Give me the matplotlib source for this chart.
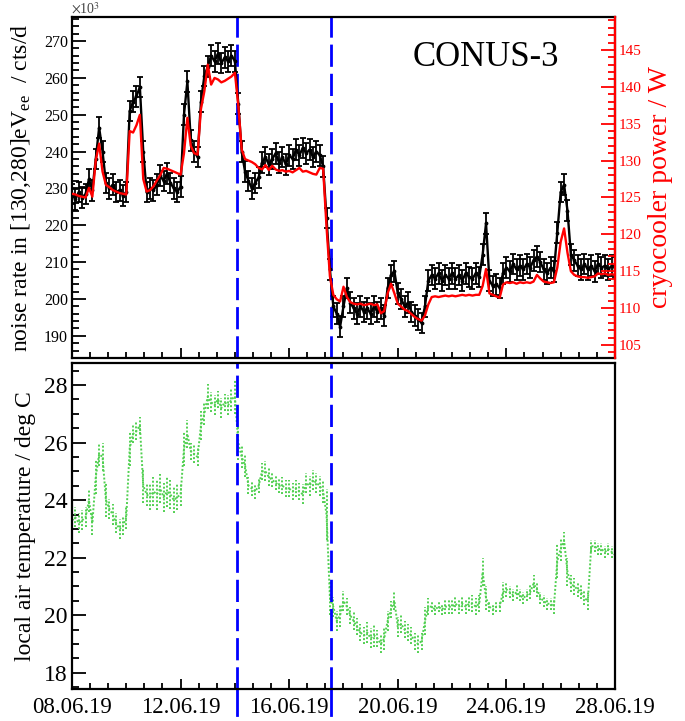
"""CONUS-3: noise rate vs cryocooler power and local air temperature."""
import matplotlib

matplotlib.use("Agg")
import matplotlib.pyplot as plt
import matplotlib.transforms as mtransforms
import numpy as np
import pandas as pd
from matplotlib.ticker import FuncFormatter, MultipleLocator

plt.rcParams["font.family"] = "serif"
plt.rcParams["font.serif"] = ["Liberation Serif", "DejaVu Serif"]
plt.rcParams["mathtext.fontset"] = "stix"

START = pd.Timestamp("2019-06-08")
time = pd.date_range("2019-06-08 00:00", "2019-06-28 00:00", freq="3h")

# noise rate in [130,280] eV_ee, x10^3 cts/d (3 h bins)
noise_rate = [
    228.5, 227.0, 229.0, 227.5, 228.5, 232.5, 229.5, 238.0,
    246.5, 240.0, 231.5, 230.0, 231.0, 229.0, 229.5, 228.0,
    229.0, 251.0, 253.5, 255.0, 257.5, 240.0, 229.0, 230.0,
    229.5, 231.0, 233.5, 232.0, 234.0, 231.5, 230.0, 229.0,
    230.5, 250.0, 259.0, 243.0, 240.0, 238.5, 253.5, 260.5,
    263.0, 266.0, 264.5, 266.5, 264.0, 265.5, 264.5, 266.0,
    264.5, 253.0, 240.0, 234.5, 232.0, 230.0, 231.5, 233.0,
    237.0, 238.5, 236.5, 238.0, 239.5, 237.0, 238.5, 236.5,
    239.0, 238.0, 240.5, 239.0, 241.0, 239.5, 240.5, 238.5,
    240.0, 239.0, 236.0, 222.0, 208.0, 198.0, 196.0, 192.5,
    198.0, 203.0, 199.0, 197.5, 196.0, 198.0, 196.5, 197.5,
    196.0, 198.0, 196.5, 197.5, 195.5, 203.0, 206.5, 207.5,
    201.5, 200.0, 198.0, 199.0, 196.5, 195.5, 194.5, 193.5,
    198.0, 205.0, 206.5, 205.5, 207.0, 205.0, 206.5, 205.5,
    207.0, 205.5, 206.5, 205.0, 207.0, 206.0, 205.5, 207.0,
    206.0, 212.0, 220.5, 205.0, 203.5, 204.0, 203.0, 207.0,
    208.5, 207.5, 209.5, 208.0, 209.0, 208.0, 209.5, 208.5,
    210.5, 211.5, 210.0, 208.0, 207.0, 208.5, 207.5, 218.0,
    229.0, 231.0, 224.0, 212.0, 210.5, 209.0, 208.0, 209.5,
    208.0, 209.0, 207.5, 209.5, 208.5, 209.0, 208.0, 209.0,
    208.5,
]
noise_err = 2.8

# cryocooler power / W
cryo_power = [
    125.5, 125.4, 125.2, 125.1, 125.0, 126.3, 125.1, 130.0,
    132.3, 128.5, 126.7, 126.4, 126.0, 125.8, 125.6, 125.5,
    125.4, 134.0, 133.8, 134.8, 136.2, 127.5, 125.8, 126.0,
    126.5, 127.3, 128.0, 129.0, 128.9, 128.7, 128.5, 128.3,
    128.1, 131.0, 135.8, 132.0, 131.0, 130.8, 137.0, 139.4,
    143.0, 140.3, 141.2, 141.0, 140.6, 140.8, 141.1, 141.4,
    141.9, 137.5, 131.5, 130.2, 130.0, 129.8, 129.5, 129.0,
    128.8, 129.4, 128.7, 129.3, 128.8, 128.6, 128.7, 128.5,
    128.6, 128.4, 128.7, 129.0, 128.5, 128.6, 128.4, 128.2,
    128.1, 129.0, 128.9, 121.0, 114.3, 111.8, 111.2, 110.9,
    112.9, 111.5, 110.8, 110.6, 110.5, 110.6, 110.4, 110.5,
    110.6, 110.4, 110.5, 109.3, 109.6, 112.0, 113.3, 112.0,
    110.6, 110.2, 109.8, 109.6, 109.2, 108.8, 108.5, 108.3,
    109.0, 110.5, 111.5, 111.6, 111.5, 111.6, 111.7, 111.6,
    111.7, 111.6, 111.7, 111.8, 111.7, 111.8, 111.7, 111.8,
    111.8, 113.0, 115.3, 112.0, 111.8, 111.6, 111.4, 113.2,
    113.5, 113.4, 113.5, 113.3, 113.5, 113.4, 113.5, 113.4,
    113.6, 114.5, 114.0, 113.6, 113.5, 113.4, 113.5, 115.5,
    119.0, 120.8, 117.5, 115.0, 114.5, 114.3, 114.2, 114.2,
    114.1, 114.2, 114.3, 114.7, 114.6, 114.7, 114.5, 114.6,
    114.5,
]

# local air temperature / deg C, bin centre and half spread
air_temp = [
    23.3, 23.4, 23.2, 23.3, 23.4, 24.0, 23.2, 24.8,
    25.6, 25.5, 24.0, 23.7, 23.5, 23.2, 23.0, 23.1,
    23.4, 25.8, 26.3, 26.4, 26.6, 24.5, 24.2, 24.1,
    24.3, 24.2, 24.4, 24.1, 24.3, 24.2, 24.0, 24.1,
    24.2, 25.8, 26.3, 25.7, 25.6, 25.5, 26.6, 27.0,
    27.6, 27.4, 27.3, 27.5, 27.2, 27.4, 27.3, 27.5,
    27.6, 26.0, 25.5, 25.2, 24.5, 24.4, 24.3, 24.5,
    25.0, 25.0, 24.8, 24.7, 24.6, 24.5, 24.5, 24.4,
    24.4, 24.3, 24.4, 24.3, 24.2, 24.6, 24.5, 24.7,
    24.6, 24.5, 24.3, 23.5, 20.6, 20.3, 19.8, 20.0,
    20.5, 20.3, 20.0, 19.8, 19.6, 19.4, 19.3, 19.4,
    19.2, 19.3, 19.2, 19.0, 19.2, 19.8, 20.2, 20.5,
    19.6, 19.7, 19.5, 19.4, 19.3, 19.1, 19.0, 19.1,
    19.8, 20.3, 20.3, 20.2, 20.3, 20.2, 20.3, 20.3,
    20.3, 20.4, 20.3, 20.4, 20.3, 20.4, 20.4, 20.3,
    20.4, 21.5, 20.6, 20.3, 20.2, 20.3, 20.3, 20.8,
    20.9, 20.8, 20.7, 20.8, 20.7, 20.6, 20.7, 20.8,
    21.1, 20.9, 20.6, 20.5, 20.4, 20.4, 20.3, 21.9,
    22.3, 22.6, 21.5, 21.1, 21.0, 20.9, 20.8, 20.6,
    20.5, 22.4, 22.4, 22.3, 22.3, 22.2, 22.3, 22.2,
    22.1,
]
air_temp_spread = [
    0.35, 0.35, 0.35, 0.35, 0.35, 0.40, 0.40, 0.60,
    0.40, 0.50, 0.60, 0.35, 0.35, 0.35, 0.35, 0.30,
    0.40, 0.60, 0.30, 0.30, 0.30, 0.60, 0.40, 0.45,
    0.50, 0.55, 0.50, 0.50, 0.55, 0.50, 0.45, 0.45,
    0.40, 0.60, 0.50, 0.30, 0.30, 0.30, 0.50, 0.40,
    0.45, 0.35, 0.35, 0.30, 0.35, 0.30, 0.35, 0.40,
    0.60, 0.60, 0.40, 0.40, 0.30, 0.25, 0.25, 0.25,
    0.30, 0.35, 0.30, 0.25, 0.25, 0.25, 0.30, 0.30,
    0.30, 0.30, 0.30, 0.30, 0.35, 0.35, 0.35, 0.35,
    0.35, 0.35, 0.40, 0.90, 0.60, 0.35, 0.35, 0.40,
    0.35, 0.30, 0.30, 0.30, 0.30, 0.30, 0.30, 0.35,
    0.35, 0.40, 0.30, 0.30, 0.40, 0.35, 0.30, 0.30,
    0.35, 0.30, 0.30, 0.30, 0.30, 0.30, 0.30, 0.30,
    0.50, 0.30, 0.20, 0.20, 0.20, 0.20, 0.25, 0.25,
    0.25, 0.25, 0.25, 0.25, 0.25, 0.25, 0.30, 0.30,
    0.30, 0.50, 0.40, 0.20, 0.20, 0.20, 0.20, 0.35,
    0.25, 0.20, 0.20, 0.25, 0.20, 0.20, 0.20, 0.25,
    0.30, 0.25, 0.20, 0.20, 0.20, 0.20, 0.25, 0.60,
    0.40, 0.30, 0.50, 0.30, 0.30, 0.25, 0.25, 0.25,
    0.30, 0.20, 0.20, 0.20, 0.20, 0.20, 0.20, 0.20,
    0.20,
]

# reactor / cryocooler events marked with dashed lines
event_times = ["2019-06-14 02:00", "2019-06-17 13:00"]


def main() -> None:
    days = ((time - START) / pd.Timedelta(days=1)).to_numpy()
    temp = np.asarray(air_temp)
    spread = np.asarray(air_temp_spread)
    events = [(pd.Timestamp(e) - START) / pd.Timedelta(days=1) for e in event_times]

    fig = plt.figure(figsize=(6.85, 7.21), dpi=100)
    ax_top = fig.add_axes([0.1051, 0.5035, 0.7927, 0.4730])
    ax_bot = fig.add_axes([0.1051, 0.0444, 0.7927, 0.4528])

    green = "#52d052"
    blue = "#0000ff"

    # top: noise rate + cryocooler power
    ax_top.errorbar(days, noise_rate, yerr=noise_err, fmt="-", marker=".", ms=3.5,
                    capsize=2.2, elinewidth=1.3, capthick=1.3, color="black", lw=1.7)
    ax_top.set_ylim(184.0, 276.5)
    ax_top.set_ylabel(r"noise rate in [130,280]eV$_\mathregular{ee}$  / cts/d",
                      fontsize=17, labelpad=8)
    ax_top.yaxis.set_major_locator(MultipleLocator(10))
    ax_top.yaxis.set_minor_locator(MultipleLocator(2))
    ax_top.tick_params(axis="y", labelsize=11.5)

    ax_pow = ax_top.twinx()
    ax_pow.plot(days, cryo_power, color="red", lw=1.7)
    ax_pow.set_ylim(103.24, 149.47)
    ax_pow.yaxis.set_major_locator(MultipleLocator(5))
    ax_pow.yaxis.set_minor_locator(MultipleLocator(1))
    ax_pow.set_ylabel("cryocooler power / W", color="red", fontsize=20, labelpad=4)
    ax_pow.tick_params(axis="y", which="both", colors="red", direction="in",
                       labelsize=11, pad=3, width=1.3)
    ax_pow.tick_params(axis="y", which="major", length=10)
    ax_pow.tick_params(axis="y", which="minor", length=5)
    ax_pow.spines["right"].set_color("red")
    ax_pow.spines["right"].set_linewidth(1.6)
    for side in ("top", "left", "bottom"):
        ax_pow.spines[side].set_visible(False)

    ax_top.text(0.762, 0.882, "CONUS-3", transform=ax_top.transAxes,
                ha="center", va="center", fontsize=25)
    fig.text(0.104, 0.981, r"$\times$10$^{3}$", fontsize=10, color="#444444",
             ha="left", va="baseline")

    # bottom: local air temperature
    ax_bot.vlines(days, temp - spread, temp + spread, colors=green,
                  linestyles=(0, (1, 1)), lw=1.4)
    ax_bot.plot(days, temp, color=green, lw=1.4, ls=(0, (1, 1)))
    ax_bot.set_ylim(17.44, 28.78)
    ax_bot.set_ylabel("local air temperature / deg C", fontsize=17, labelpad=6)
    ax_bot.yaxis.set_major_locator(MultipleLocator(2))
    ax_bot.yaxis.set_minor_locator(MultipleLocator(0.5))
    ax_bot.tick_params(axis="y", labelsize=17)

    date_fmt = FuncFormatter(
        lambda d, _: (START + pd.Timedelta(days=d)).strftime("%d.%m.%y"))
    for ax in (ax_top, ax_bot):
        ax.set_xlim(0, 20)
        ax.xaxis.set_major_locator(MultipleLocator(4))
        ax.xaxis.set_minor_locator(MultipleLocator(2 / 3))
        ax.xaxis.set_major_formatter(date_fmt)
        ax.tick_params(which="both", direction="in", top=False, right=False,
                       width=1.3, pad=3)
        ax.tick_params(axis="y", which="major", length=10)
        ax.tick_params(axis="y", which="minor", length=5)
        ax.tick_params(axis="x", which="major", length=7)
        ax.tick_params(axis="x", which="minor", length=4)
        for sp in ax.spines.values():
            sp.set_linewidth(1.6)
        for ev in events:
            ax.axvline(ev, color=blue, lw=2, dashes=(8, 2.5))

    ax_top.tick_params(axis="x", labelbottom=False)
    ax_bot.tick_params(axis="x", labelsize=16.5, pad=6)

    # dashed lines run on through the date labels
    trans = mtransforms.blended_transform_factory(ax_bot.transData, ax_bot.transAxes)
    for ev in events:
        ax_bot.plot([ev, ev], [-0.08, 0.0], transform=trans, clip_on=False,
                    color=blue, lw=2)

    fig.savefig("out.png", dpi=100)


if __name__ == "__main__":
    main()
